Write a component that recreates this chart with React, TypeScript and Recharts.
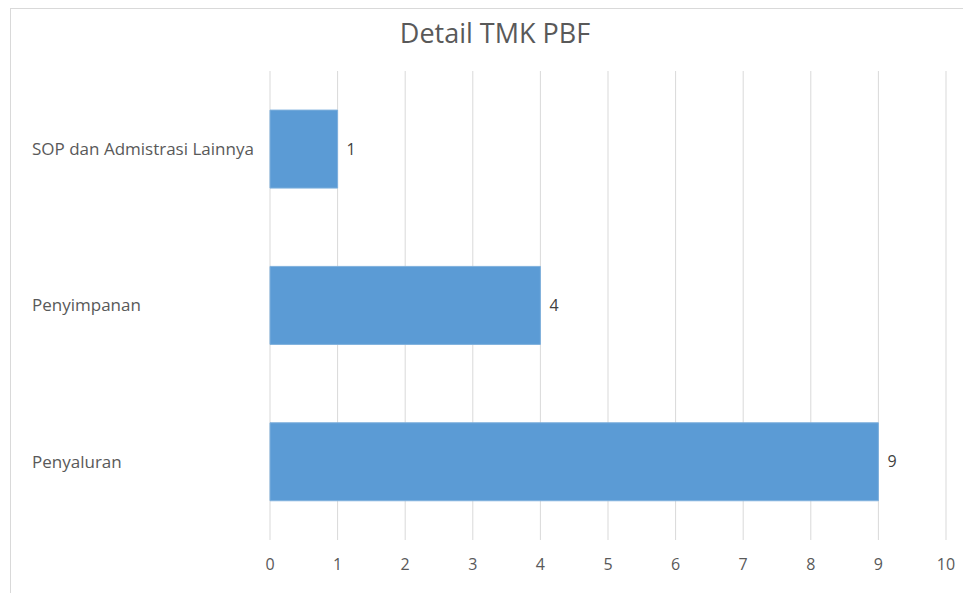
import { BarChart, Bar, XAxis, YAxis, CartesianGrid, LabelList } from "recharts";

const categories = ["SOP dan Admistrasi Lainnya", "Penyimpanan", "Penyaluran"];
const counts = [1, 4, 9];
const xTicks = [0, 1, 2, 3, 4, 5, 6, 7, 8, 9, 10];

const data = categories.map((name, i) => ({ name, value: counts[i] }));

const FONT = "'Open Sans', 'Noto Sans', sans-serif";
const TEXT = "#595959";

// category labels sit flush left in the reference, not against the axis
function CategoryTick(props: any) {
  const { y, payload } = props;
  return (
    <text x={21} y={y} dy="0.35em" textAnchor="start" fill={TEXT} fontSize={17} fontFamily={FONT}>
      {payload.value}
    </text>
  );
}

export default function App() {
  return (
    <div
      style={{
        position: "relative",
        marginLeft: 2,
        width: 975,
        height: 600,
        borderTop: "1px solid #d9d9d9",
        borderLeft: "1px solid #d9d9d9",
        fontFamily: FONT,
        background: "#fff",
      }}
    >
      <div
        style={{
          position: "absolute",
          left: 0,
          width: 968,
          top: 5,
          textAlign: "center",
          fontSize: 27,
          color: TEXT,
        }}
      >
        Detail TMK PBF
      </div>
      <BarChart
        width={960}
        height={575}
        data={data}
        layout="vertical"
        margin={{ top: 62, right: 25, left: 0, bottom: 0 }}
        barCategoryGap="25%"
      >
        <CartesianGrid horizontal={false} stroke="#d9d9d9" />
        <XAxis
          type="number"
          domain={[0, 10]}
          ticks={xTicks}
          interval={0}
          axisLine={false}
          tickLine={false}
          tickSize={0}
          tickMargin={19}
          height={44}
          tick={{ fill: TEXT, fontSize: 16, fontFamily: FONT }}
        />
        <YAxis
          type="category"
          dataKey="name"
          width={259}
          axisLine={false}
          tickLine={false}
          tickSize={0}
          tick={<CategoryTick />}
        />
        <Bar dataKey="value" fill="#5B9BD5" stroke="#7fb0dd" strokeWidth={1} isAnimationActive={false}>
          <LabelList dataKey="value" position="right" offset={9} fill="#404040" fontSize={16} fontFamily={FONT} />
        </Bar>
      </BarChart>
    </div>
  );
}
